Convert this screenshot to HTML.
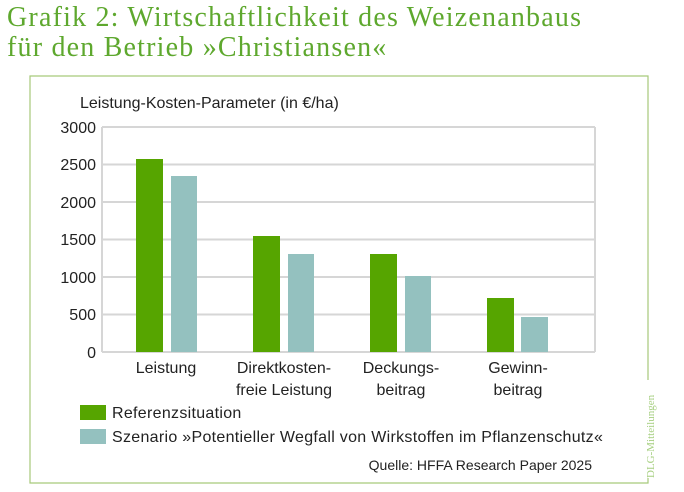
<!DOCTYPE html>
<html><head><meta charset="utf-8"><style>
body{margin:0;width:684px;height:492px;background:#fff;overflow:hidden;position:relative;font-family:"Liberation Sans",sans-serif;}
.t{position:absolute;white-space:nowrap}
</style></head><body>
<div class="t" style="left:7px;top:3px;font-family:'Liberation Serif',serif;font-size:28px;letter-spacing:1.2px;color:#5ea82e;line-height:30px">Grafik 2: Wirtschaftlichkeit des Weizenanbaus<br>für den Betrieb »Christiansen«</div>
<svg width="684" height="492" style="position:absolute;left:0;top:0" font-family="Liberation Sans, sans-serif">
<path d="M648 380 V76 H30 V483 H648 V478" fill="none" stroke="#a6c97a" stroke-width="1.2"/>
<text x="654" y="478" transform="rotate(-90 654 478)" font-size="11" fill="#a6cf80" font-family="Liberation Serif, serif">DLG-Mitteilungen</text>
<g stroke="#d6d6d6" stroke-width="2">
<line x1="102" y1="127" x2="595" y2="127"/><line x1="102" y1="164.5" x2="595" y2="164.5"/>
<line x1="102" y1="202" x2="595" y2="202"/><line x1="102" y1="239.5" x2="595" y2="239.5"/>
<line x1="102" y1="277" x2="595" y2="277"/><line x1="102" y1="314.5" x2="595" y2="314.5"/>
<line x1="102" y1="352" x2="595" y2="352"/>
<line x1="102" y1="127" x2="102" y2="352"/><line x1="595" y1="127" x2="595" y2="352"/>
</g>
<g fill="#56a500">
<rect x="136" y="159" width="27" height="193"/><rect x="253" y="236" width="27" height="116"/>
<rect x="370" y="254" width="27" height="98"/><rect x="487" y="298" width="27" height="54"/>
</g>
<g fill="#94c1bf">
<rect x="171" y="176" width="26" height="176"/><rect x="288" y="254" width="26" height="98"/>
<rect x="405" y="276" width="26" height="76"/><rect x="521" y="317" width="27" height="35"/>
</g>
<g font-size="16" fill="#222" text-anchor="end">
<text x="96" y="133">3000</text><text x="96" y="170">2500</text><text x="96" y="208">2000</text>
<text x="96" y="245">1500</text><text x="96" y="283">1000</text><text x="96" y="320">500</text><text x="96" y="358">0</text>
</g>
<text x="80" y="108" font-size="16" fill="#222">Leistung-Kosten-Parameter (in €/ha)</text>
<g font-size="16" fill="#222" text-anchor="middle">
<text x="166" y="373">Leistung</text>
<text x="284" y="373">Direktkosten-</text><text x="284" y="395">freie Leistung</text>
<text x="401" y="373">Deckungs-</text><text x="401" y="395">beitrag</text>
<text x="518" y="373">Gewinn-</text><text x="518" y="395">beitrag</text>
</g>
<rect x="80" y="405" width="26" height="15" fill="#56a500"/>
<rect x="80" y="429" width="26" height="15" fill="#94c1bf"/>
<text x="112" y="418" font-size="16" fill="#222" letter-spacing="0.3">Referenzsituation</text>
<text x="112" y="442" font-size="16" fill="#222" letter-spacing="0.3">Szenario »Potentieller Wegfall von Wirkstoffen im Pflanzenschutz«</text>
<text x="592" y="470" font-size="14" fill="#222" text-anchor="end">Quelle: HFFA Research Paper 2025</text>
</svg>
</body></html>
